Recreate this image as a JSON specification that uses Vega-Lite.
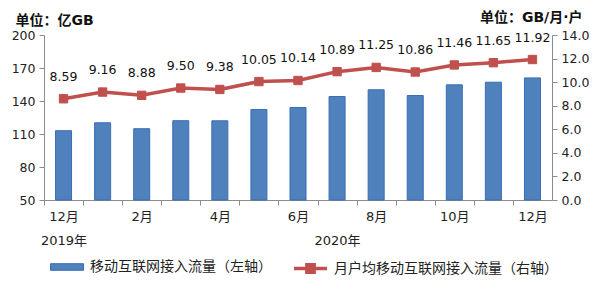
{
  "$schema": "https://vega.github.io/schema/vega-lite/v6.json",
  "width": 508,
  "height": 165,
  "autosize": {"type": "none"},
  "padding": {"left": 44, "top": 35, "right": 48, "bottom": 85},
  "background": "white",
  "config": {
    "view": {"stroke": null},
    "axis": {"grid": false, "domainColor": "#8c8c8c", "tickColor": "#8c8c8c", "labelColor": "#222", "labelFont": "DejaVu Sans, Noto Sans CJK SC", "labelFontSize": 12, "titleFont": "DejaVu Sans, Noto Sans CJK SC", "titleColor": "#111"},
    "legend": {"labelFont": "Noto Sans CJK SC", "labelFontSize": 14, "labelColor": "#222", "title": null, "labelLimit": 400}
  },
  "data": {"values": [
    {"month": "2019-12", "traffic": 113, "perUser": 8.59},
    {"month": "2020-01", "traffic": 120.2, "perUser": 9.16},
    {"month": "2020-02", "traffic": 114.8, "perUser": 8.88},
    {"month": "2020-03", "traffic": 122.1, "perUser": 9.50},
    {"month": "2020-04", "traffic": 122, "perUser": 9.38},
    {"month": "2020-05", "traffic": 132.3, "perUser": 10.05},
    {"month": "2020-06", "traffic": 134.1, "perUser": 10.14},
    {"month": "2020-07", "traffic": 144.1, "perUser": 10.89},
    {"month": "2020-08", "traffic": 150.2, "perUser": 11.25},
    {"month": "2020-09", "traffic": 145, "perUser": 10.86},
    {"month": "2020-10", "traffic": 154.7, "perUser": 11.46},
    {"month": "2020-11", "traffic": 157.1, "perUser": 11.65},
    {"month": "2020-12", "traffic": 161, "perUser": 11.92}
  ]},
  "encoding": {
    "x": {
      "field": "month", "type": "ordinal", "sort": null,
      "scale": {"paddingInner": 0, "paddingOuter": 0},
      "axis": {
        "title": null, "labelAngle": 0, "labelOverlap": false, "tickOffset": -19.54, "labelOffset": 19.54,
        "tickSize": 5, "labelPadding": 5, "labelLineHeight": 24, "labelFontSize": 13,
        "labelExpr": "datum.value == '2019-12' ? ['12月','2019年'] : datum.value == '2020-07' ? ['', '2020年'] : (toNumber(slice(datum.value,5)) % 2 == 0 ? toNumber(slice(datum.value,5)) + '月' : '')"
      }
    }
  },
  "layer": [
    {
      "mark": {"type": "bar", "width": {"band": 0.41}, "stroke": "#3a6db3", "strokeWidth": 1},
      "encoding": {
        "y": {"field": "traffic", "type": "quantitative",
          "scale": {"domain": [50, 200], "nice": false, "zero": false},
          "axis": {"orient": "left", "values": [50, 80, 110, 140, 170, 200], "tickSize": 5, "labelPadding": 4, "labelFontSize": 12.5,
            "title": "单位：亿GB", "titleAngle": 0, "titleAlign": "left", "titleBaseline": "middle",
            "titleX": -29, "titleY": -15, "titleFontSize": 14, "titleFontWeight": "bold"}},
        "y2": {"datum": 50},
        "fill": {"datum": "移动互联网接入流量（左轴）", "type": "nominal",
          "scale": {"range": ["#4f81bd"]},
          "legend": {"orient": "none", "legendX": 6, "legendY": 215,
            "symbolType": "M-1,-0.2H1V0.2H-1Z", "symbolSize": 1089, "symbolStrokeColor": "#3a6db3", "symbolStrokeWidth": 1, "labelOffset": 6}}
      }
    },
    {
      "encoding": {
        "y": {"field": "perUser", "type": "quantitative",
          "scale": {"domain": [0, 14], "nice": false},
          "axis": {"orient": "right", "values": [0, 2, 4, 6, 8, 10, 12, 14], "format": ".1f", "tickSize": 5, "labelPadding": 4, "labelFontSize": 12.5,
            "title": "单位：GB/月·户", "titleAngle": 0, "titleAlign": "right", "titleBaseline": "middle",
            "titleX": 30, "titleY": -18, "titleFontSize": 14, "titleFontWeight": "bold"}}
      },
      "layer": [
        {
          "mark": {"type": "line", "strokeWidth": 3.5, "point": {"shape": "square", "size": 70, "filled": true, "fill": "#c0504d", "stroke": "#a8403d", "strokeWidth": 1}},
          "encoding": {
            "stroke": {"datum": "月户均移动互联网接入流量（右轴）", "type": "nominal",
              "scale": {"range": ["#c0504d"]},
              "legend": {"orient": "none", "legendX": 248, "legendY": 215,
                "symbolType": "M-1,0H1M-0.22,-0.22H0.22V0.22H-0.22Z", "symbolSize": 1089, "symbolFillColor": "#c0504d", "symbolStrokeWidth": 3.5, "labelOffset": 5}}
          }
        },
        {
          "mark": {"type": "text", "dy": -22, "fontSize": 12.5, "font": "DejaVu Sans", "color": "#111"},
          "encoding": {"text": {"field": "perUser", "type": "quantitative", "format": ".2f"}}
        }
      ]
    }
  ],
  "resolve": {"scale": {"y": "independent"}}
}
